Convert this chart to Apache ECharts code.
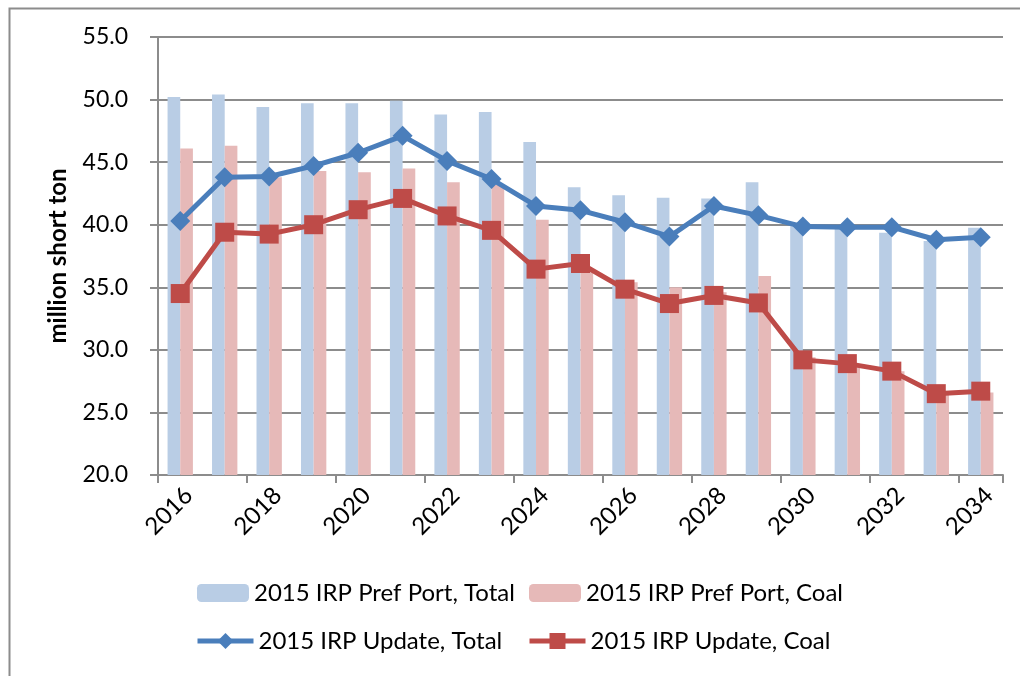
<!DOCTYPE html>
<html>
<head>
<meta charset="utf-8">
<script src="https://cdn.jsdelivr.net/npm/echarts@6/dist/echarts.min.js"></script>
<style>
html,body{margin:0;padding:0;background:#fff;}
#chart{width:1020px;height:676px;}
</style>
</head>
<body>
<div id="chart"></div>
<script>
const years = ['2016','2017','2018','2019','2020','2021','2022','2023','2024','2025','2026','2027','2028','2029','2030','2031','2032','2033','2034'];
const prefTotal = [50.2, 50.4, 49.4, 49.7, 49.7, 49.9, 48.8, 49.0, 46.6, 43.0, 42.35, 42.15, 42.1, 43.4, 39.9, 39.9, 39.35, 38.7, 39.75];
const prefCoal  = [46.1, 46.3, 43.8, 44.3, 44.2, 44.5, 43.4, 43.2, 40.4, 36.3, 35.4, 35.0, 34.6, 35.9, 29.4, 28.7, 28.3, 26.5, 26.6];
const updTotal  = [40.3, 43.8, 43.85, 44.7, 45.75, 47.1, 45.1, 43.65, 41.5, 41.15, 40.2, 39.05, 41.5, 40.75, 39.85, 39.8, 39.8, 38.8, 39.0];
const updCoal   = [34.5, 39.4, 39.25, 40.0, 41.2, 42.1, 40.7, 39.55, 36.45, 36.9, 34.85, 33.7, 34.35, 33.75, 29.2, 28.9, 28.3, 26.5, 26.7];
const names = ['2015 IRP Pref Port, Total','2015 IRP Pref Port, Coal','2015 IRP Update, Total','2015 IRP Update, Coal'];

const FONT = 'Lato';
const chart = echarts.init(document.getElementById('chart'), null, {renderer:'canvas'});
const legendText = {fontFamily: FONT, fontSize: 24, color: '#000'};
function lg(name, left, top, w, h, extra){
  return Object.assign({data:[name], left:left, top:top, itemWidth:w, itemHeight:h, itemGap:0,
    textStyle: legendText, padding:0, selectedMode:false}, extra || {});
}
chart.setOption({
  animation:false,
  backgroundColor:'#fff',
  graphic:[{type:'rect', left:7, top:6, shape:{width:1100, height:800},
    style:{fill:'none', stroke:'#8c8c8c', lineWidth:2}}],
  grid:{left:158, right:17, top:37, bottom:201},
  legend:[
    lg(names[0], 197, 581, 52, 18),
    lg(names[1], 529, 581, 52, 18),
    lg(names[2], 195, 629, 56, 20, {lineStyle:{width:5}}),
    lg(names[3], 527, 629, 56, 20, {lineStyle:{width:5}})
  ],
  xAxis:{type:'category', data:years, boundaryGap:true,
    axisLine:{lineStyle:{color:'#8c8c8c', width:2}},
    axisTick:{show:true, length:8, lineStyle:{color:'#8c8c8c', width:2}},
    axisLabel:{interval:1, rotate:45, margin:8, verticalAlign:'top', fontFamily:FONT, fontSize:24, color:'#000'},
    splitLine:{show:false}},
  yAxis:{type:'value', min:20, max:55, interval:5,
    name:'million short ton', nameLocation:'middle', nameGap:88,
    nameTextStyle:{fontFamily:FONT, fontSize:24, fontWeight:'bold', color:'#000'},
    axisLine:{show:true, lineStyle:{color:'#8c8c8c', width:2}},
    axisTick:{show:true, length:8, lineStyle:{color:'#8c8c8c', width:2}},
    axisLabel:{margin:30, fontFamily:FONT, fontSize:23, color:'#000', formatter:v=>v.toFixed(1)},
    splitLine:{show:true, lineStyle:{color:'#8c8c8c', width:2}}},
  series:[
    {name:names[0], type:'bar', data:prefTotal, barGap:'0%', barCategoryGap:'43%', itemStyle:{color:'#B9CDE5'}},
    {name:names[1], type:'bar', data:prefCoal, barGap:'0%', barCategoryGap:'43%', itemStyle:{color:'#E6B9B8'}},
    {name:names[2], type:'line', data:updTotal, symbol:'diamond', symbolSize:20,
      lineStyle:{color:'#4A7EBB', width:5}, itemStyle:{color:'#4A7EBB'}},
    {name:names[3], type:'line', data:updCoal, symbol:'rect', symbolSize:19,
      lineStyle:{color:'#BE4B48', width:5}, itemStyle:{color:'#BE4B48'}}
  ]
});
</script>
</body>
</html>
